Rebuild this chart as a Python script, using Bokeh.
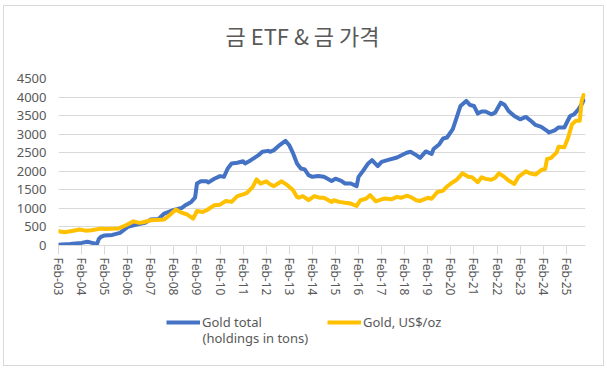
from bokeh.plotting import figure
from bokeh.layouts import column
from bokeh.models import Range1d, FixedTicker, Legend, LegendItem, Label
from bokeh.embed import file_html
from bokeh.resources import INLINE

# ---- data ----
etf_dates = ["2003-02", "2003-08", "2004-02", "2004-05", "2004-08", "2004-10", "2004-11", "2004-12",
             "2005-02", "2005-06", "2005-10", "2006-02", "2006-06", "2006-11", "2007-02", "2007-06",
             "2007-09", "2008-02", "2008-06", "2008-08", "2008-11", "2009-01", "2009-02", "2009-04",
             "2009-07", "2009-08", "2009-11", "2010-02", "2010-04", "2010-06", "2010-08", "2010-11",
             "2011-02", "2011-03", "2011-06", "2011-09", "2011-10", "2011-12", "2012-03", "2012-04",
             "2012-06", "2012-09", "2012-12", "2013-02", "2013-04", "2013-06", "2013-08", "2013-10",
             "2013-12", "2014-02", "2014-05", "2014-08", "2014-12", "2015-02", "2015-05", "2015-07",
             "2015-10", "2016-01", "2016-02", "2016-04", "2016-07", "2016-09", "2016-12", "2017-02",
             "2017-05", "2017-10", "2018-03", "2018-05", "2018-08", "2018-10", "2019-01", "2019-04",
             "2019-05", "2019-08", "2019-10", "2019-12", "2020-03", "2020-05", "2020-07", "2020-10",
             "2020-12", "2021-02", "2021-04", "2021-06", "2021-08", "2021-11", "2022-01", "2022-04",
             "2022-06", "2022-08", "2022-11", "2023-02", "2023-05", "2023-08", "2023-10", "2024-01",
             "2024-04", "2024-05", "2024-08", "2024-10", "2025-01", "2025-04", "2025-06", "2025-08",
             "2025-10", "2025-11"]
etf_tons = [20, 40, 70, 100, 65, 40, 180, 230,
            270, 285, 340, 500, 560, 610, 700, 715,
            860, 960, 1010, 1085, 1175, 1290, 1670, 1730,
            1730, 1700, 1800, 1870, 1850, 2075, 2210, 2230,
            2270, 2210, 2300, 2400, 2435, 2525, 2550, 2525,
            2570, 2705, 2820, 2700, 2480, 2210, 2075, 2050,
            1895, 1850, 1870, 1850, 1740, 1800, 1740, 1670,
            1670, 1600, 1850, 1985, 2210, 2300, 2140, 2255,
            2300, 2370, 2500, 2525, 2435, 2360, 2535, 2465,
            2600, 2730, 2885, 2910, 3135, 3445, 3760, 3895,
            3785, 3760, 3555, 3610, 3610, 3535, 3580, 3850,
            3785, 3625, 3490, 3400, 3465, 3340, 3250, 3195,
            3090, 3045, 3105, 3180, 3180, 3490, 3535, 3645,
            3805, 3910]

price_dates = ["2003-02", "2003-05", "2003-09", "2004-01", "2004-04", "2004-07", "2004-12", "2005-02",
               "2005-09", "2006-01", "2006-05", "2006-08", "2006-10", "2007-02", "2007-09", "2007-12",
               "2008-03", "2008-06", "2008-09", "2008-12", "2009-02", "2009-05", "2009-07", "2009-11",
               "2010-02", "2010-05", "2010-08", "2010-11", "2011-02", "2011-04", "2011-07", "2011-09",
               "2011-11", "2012-02", "2012-04", "2012-06", "2012-10", "2013-01", "2013-04", "2013-06",
               "2013-07", "2013-09", "2013-12", "2014-03", "2014-06", "2014-08", "2014-12", "2015-01",
               "2015-04", "2015-07", "2015-10", "2016-01", "2016-03", "2016-06", "2016-08", "2016-11",
               "2017-02", "2017-04", "2017-07", "2017-10", "2017-12", "2018-03", "2018-05", "2018-08",
               "2018-10", "2019-02", "2019-04", "2019-07", "2019-10", "2019-12", "2020-03", "2020-05",
               "2020-08", "2020-11", "2021-01", "2021-04", "2021-06", "2021-08", "2021-11", "2022-01",
               "2022-03", "2022-06", "2022-08", "2022-11", "2023-01", "2023-02", "2023-05", "2023-07",
               "2023-10", "2024-01", "2024-03", "2024-04", "2024-06", "2024-09", "2024-10", "2025-01",
               "2025-03", "2025-05", "2025-07", "2025-09", "2025-10", "2025-11"]
price_usd = [385, 355, 390, 430, 400, 410, 455, 445,
             455, 545, 650, 610, 625, 680, 700, 830,
             970, 885, 835, 725, 930, 905, 950, 1085,
             1100, 1200, 1175, 1330, 1380, 1420, 1580, 1780,
             1670, 1730, 1650, 1600, 1730, 1625, 1490, 1310,
             1290, 1330, 1220, 1330, 1285, 1290, 1175, 1220,
             1175, 1150, 1130, 1065, 1220, 1265, 1355, 1190,
             1245, 1265, 1245, 1310, 1285, 1340, 1310, 1220,
             1200, 1285, 1260, 1440, 1480, 1590, 1705, 1770,
             1945, 1855, 1840, 1705, 1840, 1795, 1770, 1820,
             1945, 1840, 1750, 1660, 1840, 1885, 2000, 1945,
             1910, 2035, 2060, 2330, 2355, 2510, 2660, 2645,
             2910, 3270, 3360, 3360, 3895, 4055]

tick_labels = ["Feb-03", "Feb-04", "Feb-05", "Feb-06", "Feb-07", "Feb-08", "Feb-09", "Feb-10",
               "Feb-11", "Feb-12", "Feb-13", "Feb-14", "Feb-15", "Feb-16", "Feb-17", "Feb-18",
               "Feb-19", "Feb-20", "Feb-21", "Feb-22", "Feb-23", "Feb-24", "Feb-25"]
y_ticks = [0, 500, 1000, 1500, 2000, 2500, 3000, 3500, 4000, 4500]

title_text = "금 ETF & 금 가격"
series_names = ["Gold total", "Gold, US$/oz"]
series_note = "(holdings in tons)"
series_colors = ["#4472C4", "#FFC000"]


def month_index(d):
    y, m = d.split("-")
    return (int(y) - 2003) * 12 + (int(m) - 2)


etf_x = [month_index(d) for d in etf_dates]
price_x = [month_index(d) for d in price_dates]
tick_pos = [12 * i for i in range(len(tick_labels))]

TEXT = "#595959"
GRID = "#d9d9d9"
W = 599


def bare(height):
    f = figure(width=W, height=height, output_backend="svg", toolbar_location=None,
               x_axis_type=None, y_axis_type=None, x_range=Range1d(0, 1), y_range=Range1d(0, 1),
               min_border=0)
    f.outline_line_color = None
    f.grid.visible = False
    f.border_fill_color = "white"
    return f


# ---- title strip (its frame is aligned with the chart's frame, which starts 54px in) ----
top = bare(62)
top.add_layout(Label(x=244, y=34, x_units="screen", y_units="screen", text=title_text,
                     text_align="center", text_baseline="middle", text_font="Noto Sans CJK KR",
                     text_font_size="22px", text_color=TEXT))

# ---- main chart ----
p = figure(width=W, height=237, output_backend="svg", toolbar_location=None,
           x_range=Range1d(0, 274), y_range=Range1d(0, 4500),
           min_border_left=54, min_border_right=18, min_border_top=10, min_border_bottom=60)
p.outline_line_color = None
p.background_fill_color = "white"
p.border_fill_color = "white"

p.line(etf_x, etf_tons, line_width=4, line_color=series_colors[0], line_join="round", line_cap="round")
p.line(price_x, price_usd, line_width=4, line_color=series_colors[1], line_join="round", line_cap="round")

p.xaxis.ticker = FixedTicker(ticks=tick_pos)
p.xaxis.major_label_overrides = {t: l for t, l in zip(tick_pos, tick_labels)}
p.xaxis.major_label_orientation = "vertical"
p.xaxis.axis_line_color = GRID
p.xaxis.major_tick_line_color = GRID
p.xaxis.major_tick_in = 0
p.xaxis.major_tick_out = 9
p.xaxis.minor_tick_line_color = None
p.xaxis.major_label_standoff = 3
p.xaxis.major_label_text_font = "Noto Sans"
p.xaxis.major_label_text_font_size = "12px"
p.xaxis.major_label_text_color = TEXT

p.yaxis.ticker = FixedTicker(ticks=y_ticks)
p.yaxis.axis_line_color = None
p.yaxis.major_tick_line_color = None
p.yaxis.minor_tick_line_color = None
p.yaxis.major_tick_in = 0
p.yaxis.major_tick_out = 0
p.yaxis.major_label_standoff = 12
p.yaxis.major_label_text_font = "Noto Sans"
p.yaxis.major_label_text_font_size = "13px"
p.yaxis.major_label_text_color = TEXT

p.xgrid.visible = False
p.ygrid.ticker = FixedTicker(ticks=y_ticks)
p.ygrid.grid_line_color = GRID
p.ygrid.grid_line_width = 1

# ---- legend strip ----
leg = bare(60)
k1 = leg.line(etf_x, etf_tons, line_width=4, line_color=series_colors[0], visible=False)
k2 = leg.line(price_x, price_usd, line_width=4, line_color=series_colors[1], visible=False)
legend = Legend(items=[LegendItem(label=series_names[0], renderers=[k1]),
                       LegendItem(label=series_names[1], renderers=[k2])],
                orientation="horizontal", location=(108, 33),
                glyph_width=34, glyph_height=20, label_height=20, label_standoff=2, spacing=65,
                padding=0, margin=0, border_line_color=None, background_fill_alpha=0,
                inactive_fill_alpha=0,
                label_text_font="Noto Sans", label_text_font_size="13px", label_text_color=TEXT)
leg.add_layout(legend, "center")
leg.add_layout(Label(x=144, y=27.5, x_units="screen", y_units="screen", text=series_note,
                     text_baseline="middle", text_font="Noto Sans", text_font_size="13px",
                     text_color=TEXT))

layout = column(top, p, leg, spacing=0,
                styles={"margin-left": "4px", "margin-top": "6px", "outline": "1px solid #d9d9d9"})

open("out.html", "w").write(file_html(layout, INLINE))
